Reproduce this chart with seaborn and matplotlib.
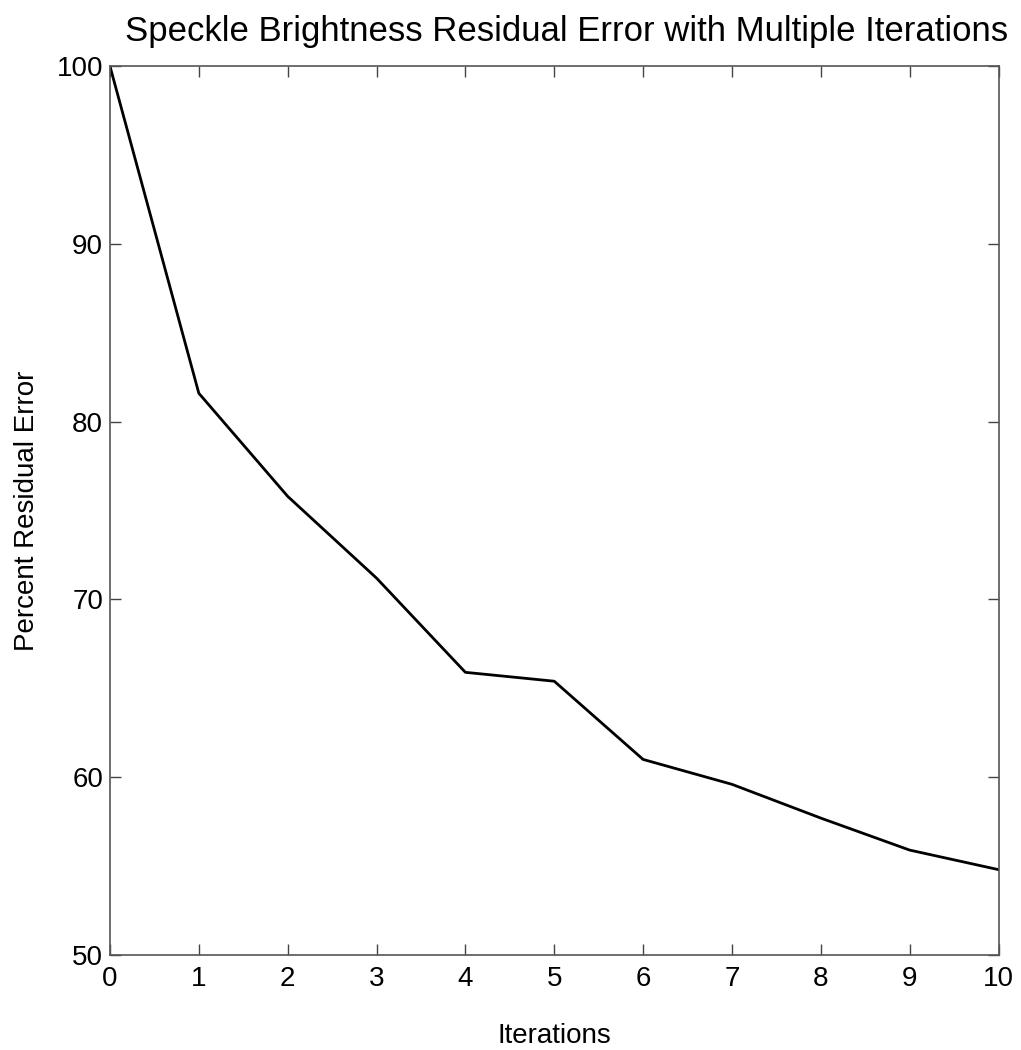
import numpy as np
import pandas as pd
import matplotlib
matplotlib.use('Agg')
import matplotlib.pyplot as plt
import seaborn as sns

# data
iterations = [0, 1, 2, 3, 4, 5, 6, 7, 8, 9, 10]
residual_error = [100.0, 81.6, 75.8, 71.2, 65.9, 65.4, 61.0, 59.6, 57.7, 55.9, 54.8]

df = pd.DataFrame({'Iterations': iterations, 'Percent Residual Error': residual_error})

sns.set_style('ticks')
plt.rcParams['font.family'] = ['Liberation Sans', 'DejaVu Sans']
plt.rcParams['text.color'] = 'black'
plt.rcParams['axes.labelcolor'] = 'black'

fig = plt.figure(figsize=(10.21, 10.5), dpi=100)
ax = fig.add_axes([0.1077, 0.0905, 0.8703, 0.8465])

sns.lineplot(data=df, x='Iterations', y='Percent Residual Error', ax=ax,
             color='black', linewidth=2.0)

ax.set_xlim(0, 10)
ax.set_ylim(50, 100)
ax.set_xticks(range(0, 11))
ax.set_yticks(range(50, 101, 10))
ax.tick_params(direction='in', length=8, width=1, labelsize=20, colors='#444444',
               labelcolor='black', top=True, right=True)
ax.tick_params(axis='x', pad=8)
ax.tick_params(axis='y', pad=5)
for sp in ax.spines.values():
    sp.set_visible(True)
    sp.set_color('#555555')
    sp.set_linewidth(1.2)

ax.set_title('Speckle Brightness Residual Error with Multiple Iterations',
             fontsize=25, pad=18, x=0.514, color='black')
ax.set_xlabel('Iterations', fontsize=20, labelpad=22)
ax.set_ylabel('Percent Residual Error', fontsize=20, labelpad=12)

fig.savefig('out.png', dpi=100)
